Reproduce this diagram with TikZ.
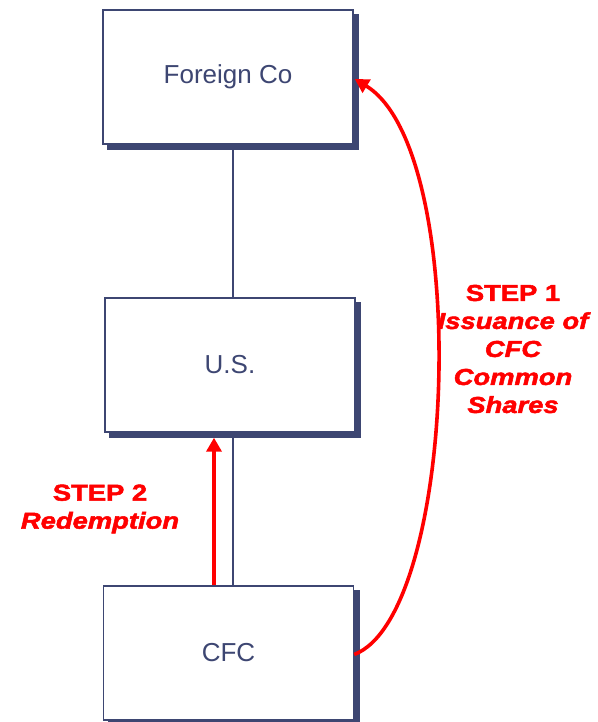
\documentclass[tikz,border=0pt]{standalone}
\usepackage{fontspec}
\setmainfont{Liberation Sans}
\newfontfamily\stepfont{Liberation Sans}[UprightFont={* Bold}, ItalicFont={* Bold Italic}, FakeStretch=1.19, FakeBold=2.2]
\usetikzlibrary{arrows.meta,backgrounds}
\definecolor{navy}{RGB}{61,70,114}
\definecolor{stepred}{RGB}{255,0,0}
\tikzset{
  box/.style={draw=navy, line width=1.4pt, fill=white,
    minimum width=250pt, minimum height=134pt, inner sep=0pt,
    font=\fontsize{26}{30}\selectfont, text=navy},
  boxshadow/.style={fill=navy},
  link/.style={draw=navy, line width=1.2pt},
  flow/.style={draw=stepred, line width=3.6pt,
    -{Triangle[length=14pt,width=15pt]}},
  steplabel/.style={text=stepred, align=center, inner sep=0pt,
    font=\stepfont\itshape\fontsize{23}{28}\selectfont},
}
\begin{document}
\begin{tikzpicture}[x=1pt, y=-1pt]
  \useasboundingbox (0,0) rectangle (597,722);
  % ownership chain
  \node[box] (foreign) at (228,77) {Foreign Co};
  \node[box] (us) at (230,365) {U.S.};
  \node[box] (cfc) at (228.5,653) {CFC};
  % offset shadows behind the boxes, kept inside the page
  \begin{pgfonlayer}{background}
    \begin{scope}
      \clip (0,0) rectangle (597,722);
      \foreach \b in {foreign,us,cfc}
        \fill[boxshadow] ([shift={(5pt,-5pt)}]\b.south west)
          rectangle ([shift={(5.7pt,-5pt)}]\b.north east);
    \end{scope}
  \end{pgfonlayer}
  \draw[link] ([xshift=5pt,yshift=-5pt]foreign.south) -- ([xshift=3pt]us.north);
  \draw[link] ([xshift=3pt,yshift=-5pt]us.south) -- ([xshift=4.5pt]cfc.north);
  % step 2: redemption
  \draw[flow] ([xshift=-14.5pt]cfc.north) -- ([xshift=-16pt,yshift=-5pt]us.south);
  % step 1: issuance of shares
  \draw[flow] ([yshift=-1.5pt]cfc.east) .. controls (458,615) and (472,150)
    .. ([xshift=1pt,yshift=-2pt]foreign.east);
  \node[steplabel] (s1) at (513,349)
    {{\upshape STEP 1}\\Issuance of\\CFC\\Common\\Shares};
  \node[steplabel] (s2) at (100,509)
    {{\upshape STEP 2}\\Redemption};
\end{tikzpicture}
\end{document}
